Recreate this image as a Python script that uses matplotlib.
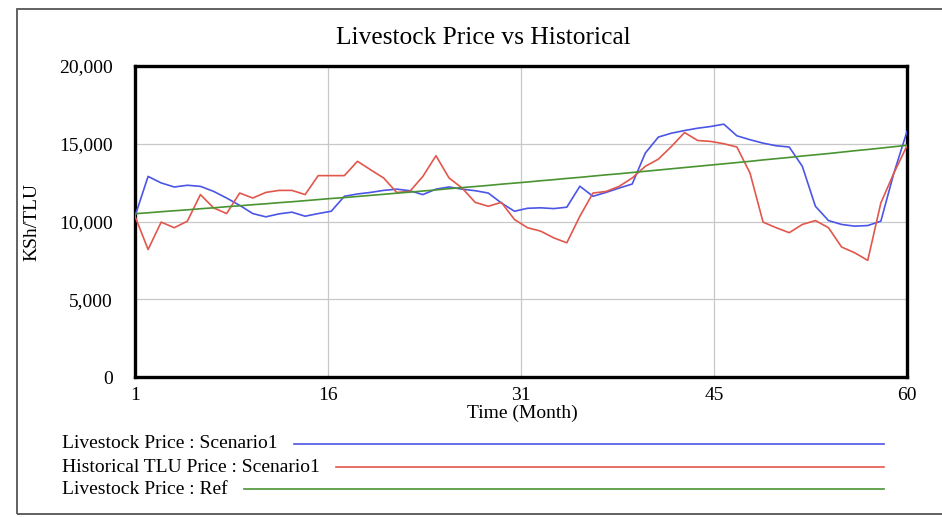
import numpy as np
import matplotlib
matplotlib.use('Agg')
import matplotlib.pyplot as plt
from matplotlib.lines import Line2D
from matplotlib.patches import Rectangle
from matplotlib.ticker import FuncFormatter

plt.rcParams['font.family'] = ['Liberation Serif', 'DejaVu Serif']

months = np.arange(1, 61)

# KSh per TLU, one value per month
livestock_scenario1 = [
    10340, 12900, 12480, 12220, 12330, 12260, 11940, 11510, 11040, 10510,
    10300, 10490, 10600, 10340, 10510, 10660, 11620, 11770, 11870, 12000,
    12080, 11980, 11730, 12080, 12220, 12080, 11980, 11830, 11190, 10660,
    10850, 10880, 10830, 10920, 12270, 11620, 11870, 12150, 12410, 14400,
    15430, 15680, 15850, 16000, 16110, 16260, 15510, 15260, 15040, 14870,
    14790, 13550, 10980, 10060, 9810, 9700, 9740, 10020, 13120, 15790,
]
historical_tlu = [
    10340, 8200, 9960, 9600, 10020, 11730, 10880, 10510, 11830, 11510,
    11870, 12000, 12000, 11730, 12950, 12950, 12950, 13870, 13330, 12800,
    11870, 11930, 12900, 14230, 12800, 12150, 11230, 10980, 11230, 10130,
    9600, 9380, 8950, 8630, 10340, 11830, 11930, 12260, 12800, 13550,
    14010, 14830, 15720, 15210, 15150, 15000, 14790, 13120, 9960, 9600,
    9280, 9810, 10060, 9600, 8360, 7990, 7500, 11190, 13120, 14870,
]
livestock_ref = [
    10500, 10560, 10630, 10690, 10750, 10820, 10880, 10950, 11010, 11080,
    11140, 11210, 11270, 11340, 11410, 11480, 11540, 11610, 11680, 11750,
    11820, 11890, 11960, 12030, 12110, 12180, 12250, 12320, 12400, 12470,
    12540, 12620, 12690, 12770, 12840, 12920, 13000, 13070, 13150, 13230,
    13310, 13390, 13470, 13550, 13630, 13710, 13790, 13870, 13960, 14040,
    14120, 14210, 14290, 14370, 14460, 14550, 14630, 14720, 14810, 14900,
]

series = [
    ('Livestock Price : Scenario1', livestock_scenario1, '#4b55e6'),
    ('Historical TLU Price : Scenario1', historical_tlu, '#e2574c'),
    ('Livestock Price : Ref', livestock_ref, '#4a9332'),
]

W, H = 942, 517
fig = plt.figure(figsize=(W / 100, H / 100), dpi=100)

def fx(px):
    return px / W

def fy(py):
    return 1 - py / H

ax = fig.add_axes([fx(135), fy(377), fx(907) - fx(135), fy(66) - fy(377)])

for name, vals, col in series:
    ax.plot(months, vals, color=col, lw=1.2, zorder=3)

ax.set_xlim(1, 60)
ax.set_ylim(0, 20000)
xt = [1 + 59 * k / 4 for k in range(5)]
ax.set_xticks(xt)
ax.set_xticklabels(['1', '16', '31', '45', '60'])
ax.set_yticks([0, 5000, 10000, 15000, 20000])
ax.yaxis.set_major_formatter(FuncFormatter(lambda v, p: f'{int(v):,}'))
ax.tick_params(length=0, labelsize=14)
ax.tick_params(axis='y', pad=16)
ax.tick_params(axis='x', pad=7)
ax.grid(True, color='#c8c8c8', lw=0.9)
for s in ax.spines.values():
    s.set_linewidth(2.4)
    s.set_color('black')

fig.text(fx(32), fy(222), 'KSh/TLU', rotation=90, ha='center', va='center', fontsize=14)
fig.text(fx(522), fy(413), 'Time (Month)', ha='center', va='center', fontsize=14)
fig.text(fx(483), fy(38), 'Livestock Price vs Historical', ha='center', va='center', fontsize=18.3)

# outer frame
fig.patches.append(Rectangle((fx(17), fy(514)), 1.2, fy(9) - fy(514), transform=fig.transFigure,
                             fill=False, edgecolor='#555555', lw=1.3))

# legend rows: label followed by a line running to a common right end
fig.canvas.draw()
renderer = fig.canvas.get_renderer()
for (name, vals, col), ypx in zip(series, [444, 467, 489]):
    t = fig.text(fx(62), fy(ypx), name, ha='left', va='center', fontsize=14)
    bb = t.get_window_extent(renderer)
    x0 = bb.x1 + 16
    fig.add_artist(Line2D([x0 / W, fx(884)], [fy(ypx), fy(ypx)], transform=fig.transFigure,
                          color=col, lw=1.2))

fig.savefig('out.png', dpi=100)
